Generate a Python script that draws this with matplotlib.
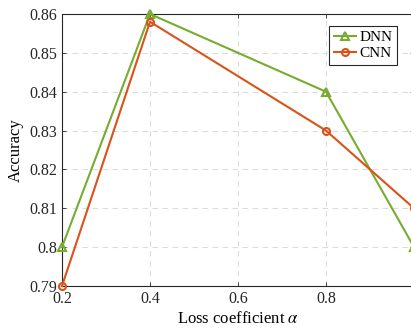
import numpy as np
import matplotlib.pyplot as plt

plt.rcParams['font.family'] = ['Liberation Serif', 'DejaVu Serif']
plt.rcParams['mathtext.fontset'] = 'stix'

# data
alpha = [0.2, 0.4, 0.8, 1.0]
dnn = [0.80, 0.86, 0.84, 0.80]
cnn = [0.79, 0.858, 0.83, 0.81]

xticks = [0.2, 0.4, 0.6, 0.8]
yticks = [0.79, 0.80, 0.81, 0.82, 0.83, 0.84, 0.85, 0.86]
yticklabels = ['0.79', '0.8', '0.81', '0.82', '0.83', '0.84', '0.85', '0.86']

fig = plt.figure(figsize=(4.11, 3.30), dpi=100)
ax = fig.add_axes([62/411, 1 - 286/330, (414 - 62)/411, (286 - 14)/330])

ax.plot(alpha, dnn, color='#77AC30', marker='^', markersize=6, lw=1.5,
        mfc='none', mew=1.5, label='DNN', clip_on=False, zorder=3)
ax.plot(alpha, cnn, color='#D95319', marker='o', markersize=5, lw=1.5,
        mfc='none', mew=1.5, label='CNN', clip_on=False, zorder=3)

ax.set_xlim(0.2, 1.0)
ax.set_ylim(0.79, 0.86)
ax.set_xticks(xticks)
ax.set_xticklabels(['0.2', '0.4', '0.6', '0.8'])
ax.set_yticks(yticks)
ax.set_yticklabels(yticklabels)
ax.tick_params(direction='in', top=True, right=True, labelsize=11.5,
               length=3, width=0.6, colors='#262626')
for s in ax.spines.values():
    s.set_linewidth(0.8)
    s.set_color('#262626')
ax.grid(True, ls=(0, (5, 4)), color='#dcdcdc', lw=0.8)

ax.set_xlabel(r'Loss coefficient $\alpha$', fontsize=12, labelpad=3)
ax.set_ylabel('Accuracy', fontsize=12, labelpad=4)

leg = ax.legend(loc='upper right', bbox_to_anchor=(0.952, 0.956), fontsize=11,
                fancybox=False, framealpha=1, edgecolor='#262626',
                handlelength=1.5, handletextpad=0.2, borderpad=0.3,
                labelspacing=0.15, borderaxespad=0)
leg.get_frame().set_linewidth(0.8)

fig.savefig('out.png', dpi=100)
